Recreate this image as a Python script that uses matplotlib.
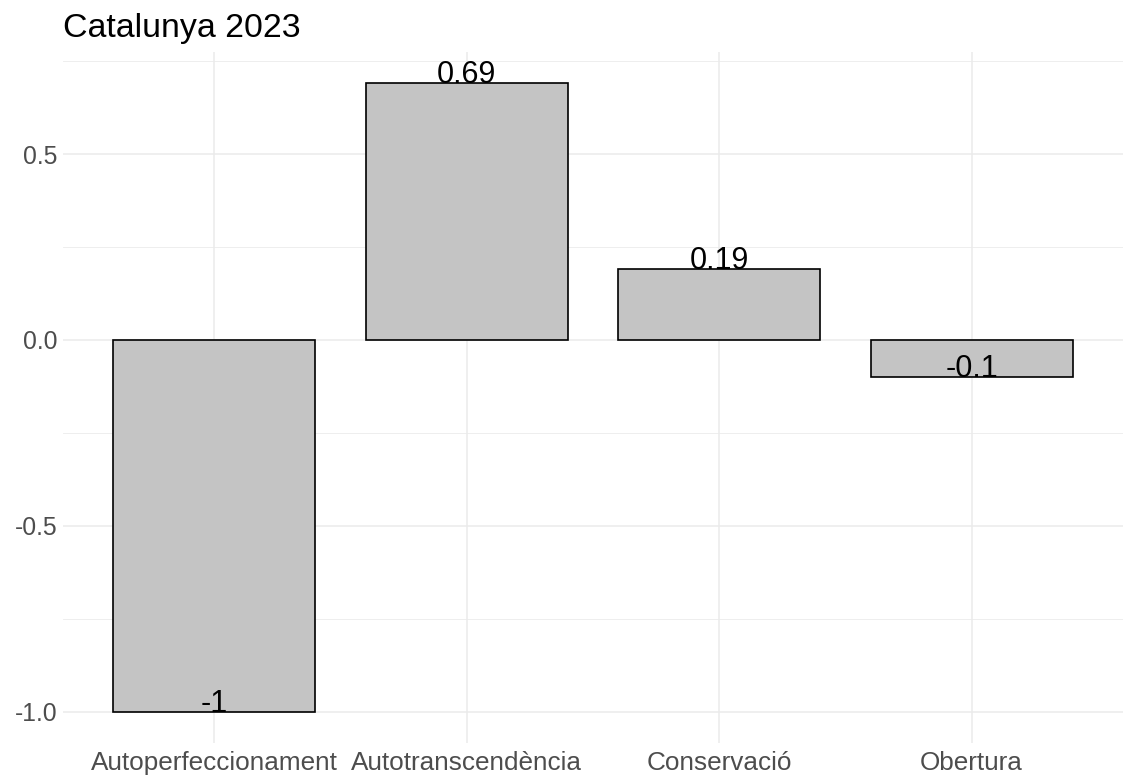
import matplotlib
matplotlib.use("Agg")
import matplotlib.pyplot as plt
import numpy as np
from matplotlib.ticker import MultipleLocator

plt.rcParams['font.family'] = ['Liberation Sans', 'DejaVu Sans']

categories = ['Autoperfeccionament', 'Autotranscendència', 'Conservació', 'Obertura']
values = [-1.0, 0.69, 0.19, -0.1]
labels = ['-1', '0.69', '0.19', '-0.1']
title = 'Catalunya 2023'

W, H = 1123, 778
fig = plt.figure(figsize=(W / 100, H / 100), dpi=100)

# panel in pixels
left, right, top, bottom = 63, 1123, 52, 743
ax = fig.add_axes([left / W, 1 - bottom / H, (right - left) / W, (bottom - top) / H])

x = np.arange(len(categories))
ax.bar(x, values, width=0.8, color='#C4C4C4', edgecolor='black', linewidth=1.2, zorder=3)

for xi, v, lab in zip(x, values, labels):
    ax.text(xi, v, lab, ha='center', va='baseline', fontsize=22, color='black', zorder=4)

ymin, ymax = min(values), max(values)
pad = (ymax - ymin) * 0.05
ax.set_ylim(ymin - pad, ymax + pad)
ax.set_xlim(-0.6, len(categories) - 1 + 0.6)

ax.set_xticks(x)
ax.set_xticklabels(categories)
ax.yaxis.set_major_locator(MultipleLocator(0.5))
ax.yaxis.set_minor_locator(MultipleLocator(0.25))
ax.yaxis.set_major_formatter(matplotlib.ticker.FormatStrFormatter('%.1f'))

ax.grid(which='major', color='#EBEBEB', linewidth=1.1, zorder=0)
ax.grid(which='minor', axis='y', color='#EBEBEB', linewidth=0.6, zorder=0)
ax.tick_params(which='both', length=0, labelcolor='#4D4D4D')
ax.tick_params(axis='x', pad=6, labelsize=18.8)
ax.tick_params(axis='y', pad=4, labelsize=17.8)
for s in ax.spines.values():
    s.set_visible(False)

fig.text(left / W, 1 - 37 / H, title, fontsize=24.4, ha='left', va='baseline', color='black')

fig.savefig('out.png', dpi=100)
